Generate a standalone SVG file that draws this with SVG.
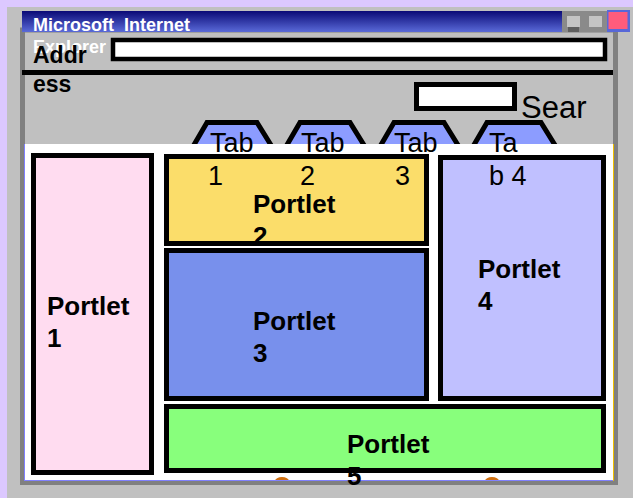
<svg xmlns="http://www.w3.org/2000/svg" width="633" height="498" viewBox="0 0 633 498">
<defs>
<linearGradient id="tb" x1="0" y1="0" x2="0" y2="1">
<stop offset="0" stop-color="#0a0a76"/>
<stop offset="1" stop-color="#5a6ad8"/>
</linearGradient>
</defs>
<style>
text{font-family:"Liberation Sans",Arial,sans-serif}
.title{font-size:18px;font-weight:bold;fill:#fff}
.bold{font-size:23px;font-weight:bold;fill:#000}
.pl{font-size:26px;font-weight:bold;fill:#000}
.reg{font-size:27px;fill:#000}
.tab{fill:#8c9cff;stroke:#000;stroke-width:5;stroke-linejoin:miter}
.port{stroke:#000;stroke-width:5}
.dot{fill:#d07010}
</style>
<g id="window">
<rect x="0" y="0" width="633" height="498" fill="#dcc8ff"/>
<rect x="7" y="7" width="626" height="491" fill="#c0c0c0"/>
<rect x="22.5" y="30" width="593" height="452.5" fill="#c0c0c0" stroke="#808080" stroke-width="5"/>
<rect x="22" y="11" width="540" height="21" fill="url(#tb)"/>
<rect x="562" y="11" width="45" height="21" fill="#8a8a8a"/>
<rect x="567" y="16" width="13" height="11" fill="#c4c4c4"/>
<rect x="568" y="27" width="11" height="5" fill="#5e5e5e"/>
<rect x="589" y="16" width="13" height="11" fill="#c4c4c4"/>
<rect x="607" y="10" width="23" height="22" fill="#5868d8"/>
<rect x="608.5" y="12" width="19" height="17" fill="#ff5c7c"/>
<text class="title" x="33" y="31" xml:space="preserve">Microsoft  Internet</text>
<text class="title" x="33" y="53">Explorer</text>
</g>
<g id="address">
<rect x="113" y="40" width="492" height="19" fill="#fff" stroke="#000" stroke-width="4.5"/>
<line x1="22" y1="72.5" x2="613" y2="72.5" stroke="#000" stroke-width="5"/>
<text class="bold" x="33" y="63">Addr</text>
<text class="bold" x="33" y="92">ess</text>
</g>
<g id="search">
<rect x="416.5" y="84.5" width="98" height="24" fill="#fff" stroke="#000" stroke-width="5"/>
<text x="521" y="118" font-size="31" fill="#000">Sear</text>
</g>
<g id="tabs">
<polygon class="tab" points="191,150 207,122.5 257,122.5 274,150"/>
<polygon class="tab" points="284,150 300,122.5 350,122.5 367,150"/>
<polygon class="tab" points="378,150 394,122.5 444,122.5 461,150"/>
<polygon class="tab" points="471,150 487,122.5 541,122.5 558,150"/>
</g>
<g id="content">
<rect x="24" y="144" width="589" height="336" fill="#fff"/>
<path class="dot" d="M275,481 A7,4 0 0,1 289,481 Z"/>
<path class="dot" d="M485,481 A7,4 0 0,1 499,481 Z"/>
<line x1="24.5" y1="144" x2="24.5" y2="481" stroke="#8080ff" stroke-width="1"/>
<line x1="24" y1="480.5" x2="614" y2="480.5" stroke="#8080ff" stroke-width="1"/>
<line x1="613.5" y1="144" x2="613.5" y2="481" stroke="#f0c000" stroke-width="1"/>
</g>
<g id="portlet1">
<rect class="port" x="33.5" y="155.5" width="118" height="317" fill="#ffdcf0"/>
<text class="pl" x="47" y="315">Portlet</text>
<text class="pl" x="47" y="347">1</text>
</g>
<g id="portlet2">
<rect class="port" x="166.5" y="156.5" width="260" height="87" fill="#fbdd6a"/>
<text class="pl" x="253" y="213">Portlet</text>
<text class="pl" x="253" y="245">2</text>
</g>
<g id="portlet3">
<rect class="port" x="166.5" y="250.5" width="260" height="148" fill="#7890ec"/>
<text class="pl" x="253" y="330">Portlet</text>
<text class="pl" x="253" y="362">3</text>
</g>
<g id="portlet4">
<rect class="port" x="440.5" y="157.5" width="163" height="241" fill="#c0c0ff"/>
<text class="pl" x="478" y="278">Portlet</text>
<text class="pl" x="478" y="310">4</text>
</g>
<g id="portlet5">
<rect class="port" x="166.5" y="406.5" width="437" height="64" fill="#88ff7c"/>
<text class="pl" x="347" y="453">Portlet</text>
<text class="pl" x="347" y="485">5</text>
</g>
<g id="tab-labels">
<text class="reg" x="210" y="152">Tab</text>
<text class="reg" x="208" y="185">1</text>
<text class="reg" x="301" y="152">Tab</text>
<text class="reg" x="300" y="185">2</text>
<text class="reg" x="394" y="152">Tab</text>
<text class="reg" x="395" y="185">3</text>
<text class="reg" x="489" y="152">Ta</text>
<text class="reg" x="489" y="185">b 4</text>
</g>
</svg>
